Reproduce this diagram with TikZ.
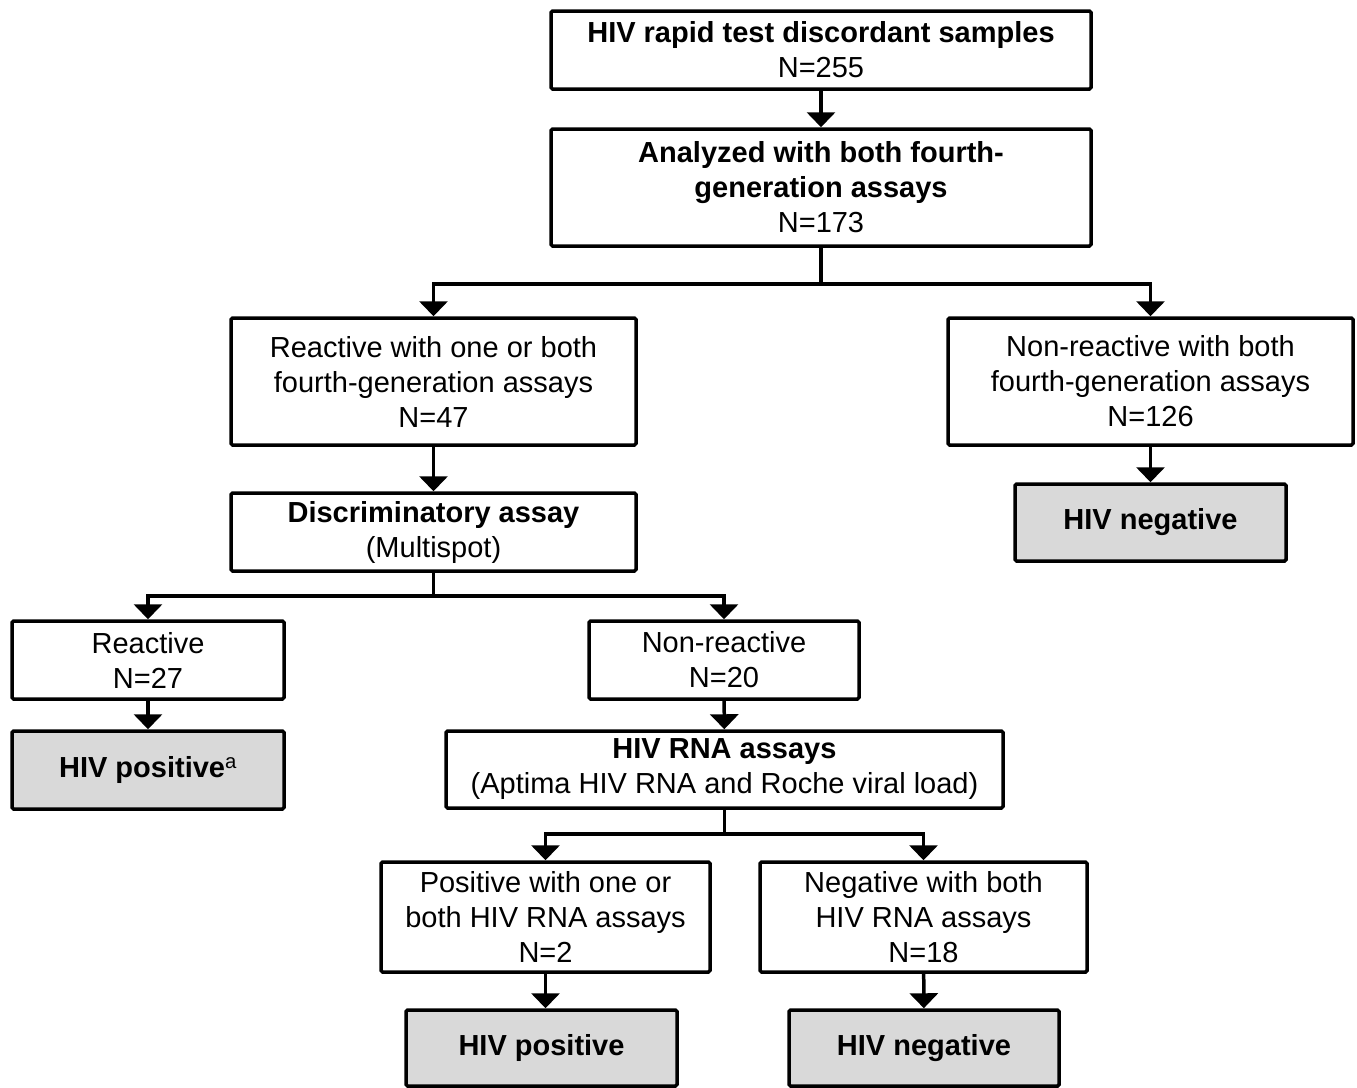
\documentclass[tikz,border=0pt]{standalone}
\usepackage{fontspec}
\setmainfont{Liberation Sans}
\usetikzlibrary{arrows.meta}
\definecolor{resultgray}{HTML}{D9D9D9}
\tikzset{
    stepbox/.style={draw, line width=3.5pt, fill=white, align=center,
        inner sep=2pt, rounded corners=1.5pt, font=\fontsize{29}{35}\selectfont},
    resultbox/.style={stepbox, fill=resultgray,
        font=\fontsize{29}{35}\selectfont\bfseries},
    link/.style={line width=3.5pt, -{Triangle[width=28pt,length=15pt]}},
    branch/.style={line width=3.5pt},
}

\begin{document}
\begin{tikzpicture}[x=1pt, y=-1pt]
    \useasboundingbox (0,0) rectangle (1357,1087);
    % top of the chart
    \node[stepbox, minimum width=540pt, minimum height=78pt] (rapid) at (821,50)
        {\textbf{HIV rapid test discordant samples}\\N=255};
    \node[stepbox, minimum width=540pt, minimum height=117pt] (analyzed) at (821,187.5)
        {\textbf{Analyzed with both fourth-}\\\textbf{generation assays}\\N=173};
    \node[stepbox, minimum width=405pt, minimum height=127pt] (react47) at (433.5,381.5)
        {Reactive with one or both\\fourth-generation assays\\N=47};
    \node[stepbox, minimum width=405pt, minimum height=127pt] (nonreact126) at (1150.5,381.5)
        {Non-reactive with both\\fourth-generation assays\\N=126};
    \node[resultbox, minimum width=271pt, minimum height=77pt] (neg126) at (1150.5,522.5)
        {HIV negative};
    \node[stepbox, minimum width=405pt, minimum height=78pt] (discrim) at (433.5,532)
        {\textbf{Discriminatory assay}\\(Multispot)};
    % multispot results
    \node[stepbox, minimum width=272pt, minimum height=78pt] (react27) at (148,660)
        {Reactive\\N=27};
    \node[stepbox, minimum width=270pt, minimum height=78pt] (nonreact20) at (724,660)
        {Non-reactive\\N=20};
    \node[resultbox, minimum width=272pt, minimum height=78pt] (pos27) at (148,770)
        {HIV positive\textsuperscript{\mdseries a}};
    \node[stepbox, minimum width=557pt, minimum height=77pt] (rna) at (724.5,769.5)
        {\textbf{HIV RNA assays}\\(Aptima HIV RNA and Roche viral load)};
    % RNA results
    \node[stepbox, minimum width=329pt, minimum height=110pt] (posrna) at (545.5,917)
        {Positive with one or\\both HIV RNA assays\\N=2};
    \node[stepbox, minimum width=327pt, minimum height=110pt] (negrna) at (923.5,917)
        {Negative with both\\HIV RNA assays\\N=18};
    \node[resultbox, minimum width=271pt, minimum height=76pt] (pos2) at (541.5,1048)
        {HIV positive};
    \node[resultbox, minimum width=270pt, minimum height=76pt] (neg18) at (924,1048)
        {HIV negative};

    \draw[link] (rapid) -- (analyzed);
    \draw[branch] (analyzed.south) -- ++(0,36) coordinate (split1);
    \draw[link] (split1) -| (react47);
    \draw[link] (split1) -| (nonreact126);
    \draw[link] (nonreact126) -- (neg126);
    \draw[link] (react47) -- (discrim);
    \draw[branch] (discrim.south) -- ++(0,23) coordinate (split2);
    \draw[link] (split2) -| (react27);
    \draw[link] (split2) -| (nonreact20);
    \draw[link] (react27) -- (pos27);
    \draw[link] (nonreact20) -- (rna);
    \draw[branch] (rna.south) -- ++(0,24) coordinate (split3);
    \draw[link] (split3) -| (posrna);
    \draw[link] (split3) -| (negrna);
    \draw[link] (posrna.south) -- (pos2.north -| posrna.south);
    \draw[link] (negrna) -- (neg18);
\end{tikzpicture}
\end{document}
